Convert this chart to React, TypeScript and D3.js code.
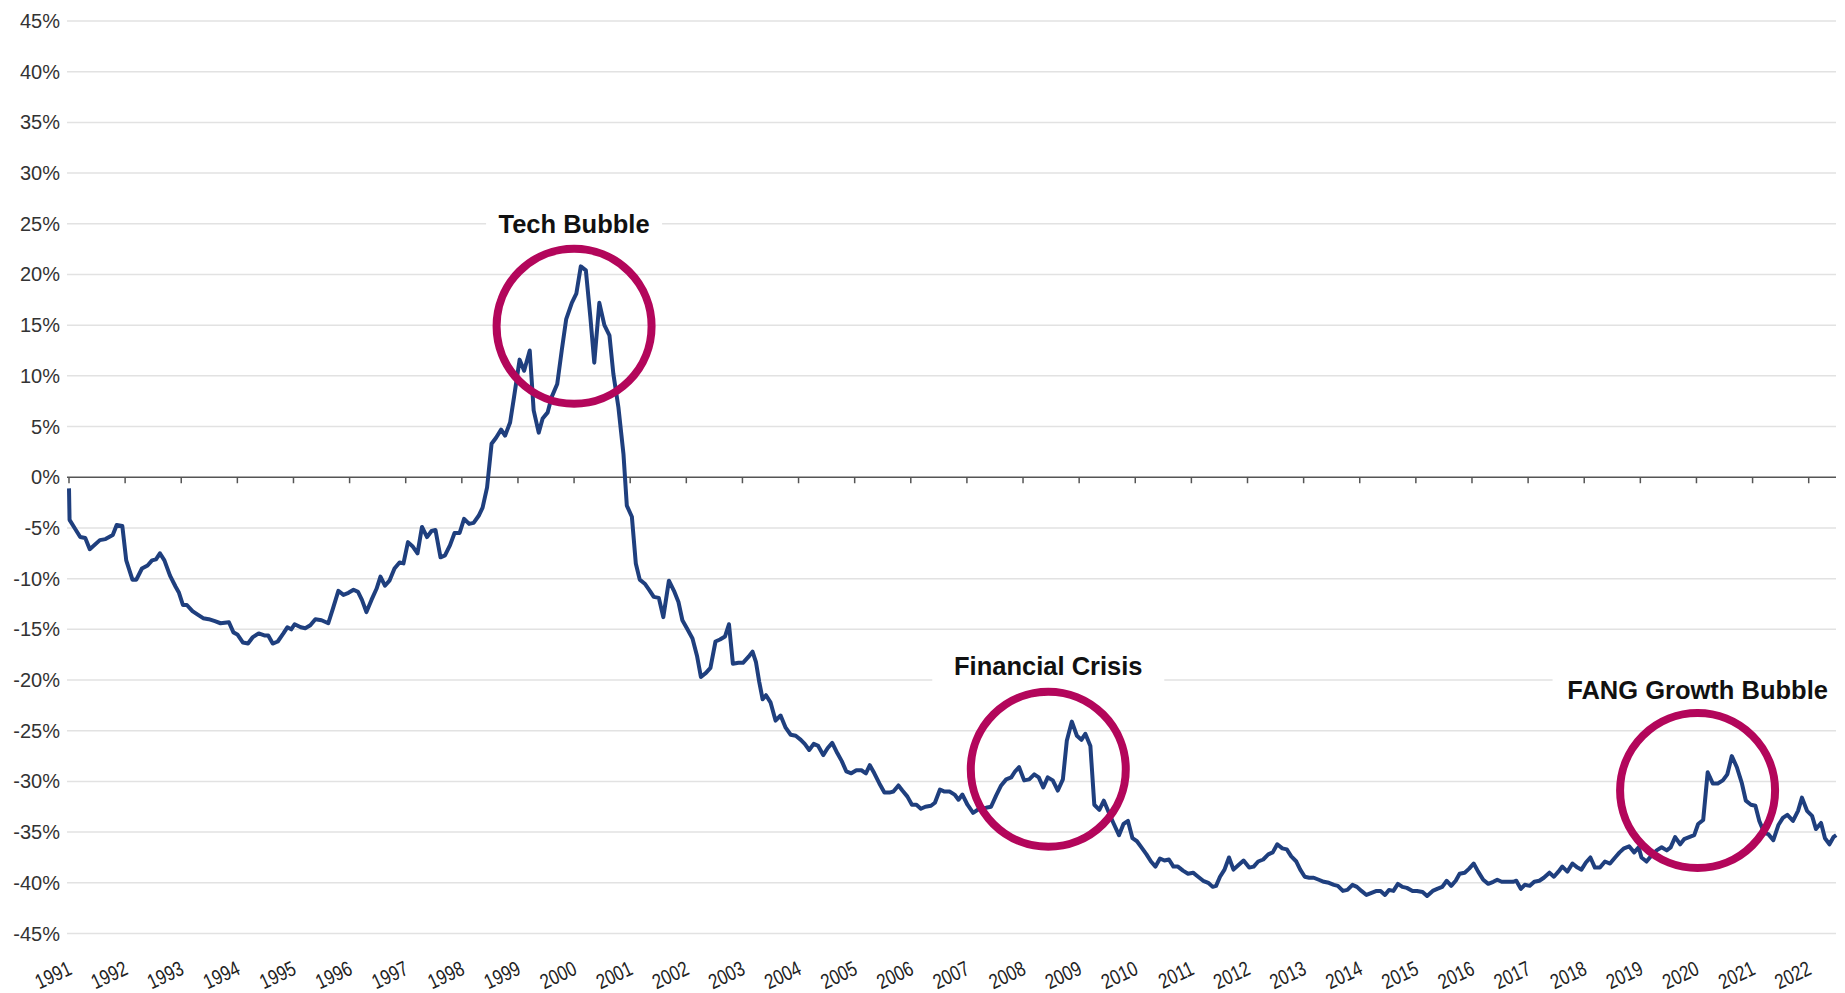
import React from 'react';
import * as d3 from 'd3';

const yearTicks = d3.range(1991, 2023);
const yTicks = [45, 40, 35, 30, 25, 20, 15, 10, 5, 0, -5, -10, -15, -20, -25, -30, -35, -40, -45];

const dates = [
  1991.00, 1991.01, 1991.10, 1991.20, 1991.29, 1991.37, 1991.55, 1991.65, 1991.78, 1991.85, 1991.95,
  1992.02, 1992.13, 1992.20, 1992.30, 1992.40, 1992.48, 1992.55, 1992.62, 1992.70, 1992.80, 1992.90, 1992.96,
  1993.03, 1993.10, 1993.20, 1993.28, 1993.39, 1993.49, 1993.60, 1993.70, 1993.85, 1993.93,
  1994.00, 1994.10, 1994.19, 1994.27, 1994.38, 1994.48, 1994.55, 1994.63, 1994.72, 1994.82, 1994.89, 1994.96,
  1995.02, 1995.13, 1995.21, 1995.30, 1995.39, 1995.50, 1995.62, 1995.70, 1995.80, 1995.89, 1995.98,
  1996.07, 1996.15, 1996.22, 1996.30, 1996.39, 1996.48, 1996.55, 1996.63, 1996.71, 1996.80, 1996.89, 1996.96,
  1997.04, 1997.12, 1997.21, 1997.29, 1997.38, 1997.46, 1997.53, 1997.62, 1997.70, 1997.79, 1997.87, 1997.96,
  1998.04, 1998.13, 1998.21, 1998.30, 1998.37, 1998.45, 1998.53, 1998.61, 1998.70, 1998.77, 1998.86, 1998.93,
  1999.03, 1999.11, 1999.21, 1999.28, 1999.37, 1999.44, 1999.53, 1999.60, 1999.70, 1999.78, 1999.86, 1999.96,
  2000.04, 2000.12, 2000.21, 2000.29, 2000.36, 2000.45, 2000.54, 2000.63, 2000.70, 2000.79, 2000.88, 2000.94,
  2001.03, 2001.10, 2001.17, 2001.26, 2001.35, 2001.42, 2001.51, 2001.59, 2001.69, 2001.78, 2001.86, 2001.93,
  2002.02, 2002.11, 2002.19, 2002.26, 2002.35, 2002.43, 2002.52, 2002.60, 2002.69, 2002.76, 2002.83, 2002.93,
  2003.01, 2003.11, 2003.18, 2003.24, 2003.30, 2003.36, 2003.42, 2003.50, 2003.59, 2003.68, 2003.77, 2003.86, 2003.95,
  2004.04, 2004.11, 2004.19, 2004.27, 2004.35, 2004.44, 2004.52, 2004.60, 2004.69, 2004.77, 2004.85, 2004.94,
  2005.03, 2005.12, 2005.20, 2005.27, 2005.35, 2005.44, 2005.53, 2005.62, 2005.69, 2005.78, 2005.85, 2005.94,
  2006.02, 2006.10, 2006.18, 2006.26, 2006.36, 2006.43, 2006.52, 2006.60, 2006.69, 2006.78, 2006.85, 2006.92,
  2007.01, 2007.11, 2007.22, 2007.34, 2007.43, 2007.52, 2007.61, 2007.70, 2007.79, 2007.86, 2007.93,
  2008.02, 2008.11, 2008.20, 2008.28, 2008.36, 2008.44, 2008.53, 2008.62, 2008.71, 2008.78, 2008.87, 2008.96,
  2009.04, 2009.11, 2009.20, 2009.27, 2009.36, 2009.44, 2009.53, 2009.61, 2009.71, 2009.79, 2009.87, 2009.95,
  2010.03, 2010.11, 2010.20, 2010.28, 2010.36, 2010.44, 2010.52, 2010.60, 2010.68, 2010.76, 2010.85, 2010.94,
  2011.03, 2011.12, 2011.21, 2011.30, 2011.38, 2011.44, 2011.51, 2011.59, 2011.67, 2011.75, 2011.83, 2011.93,
  2012.03, 2012.11, 2012.19, 2012.28, 2012.37, 2012.45, 2012.53, 2012.62, 2012.70, 2012.78, 2012.87, 2012.94,
  2013.02, 2013.10, 2013.18, 2013.27, 2013.36, 2013.45, 2013.54, 2013.61, 2013.70, 2013.78, 2013.87, 2013.95,
  2014.03, 2014.12, 2014.21, 2014.30, 2014.37, 2014.45, 2014.52, 2014.60, 2014.68, 2014.76, 2014.84, 2014.94,
  2015.02, 2015.12, 2015.20, 2015.30, 2015.38, 2015.47, 2015.55, 2015.63, 2015.71, 2015.78, 2015.87, 2015.95,
  2016.03, 2016.11, 2016.20, 2016.29, 2016.38, 2016.45, 2016.53, 2016.62, 2016.73, 2016.79, 2016.87, 2016.94,
  2017.03, 2017.11, 2017.20, 2017.28, 2017.38, 2017.46, 2017.54, 2017.61, 2017.70, 2017.79, 2017.88, 2017.95,
  2018.03, 2018.11, 2018.19, 2018.28, 2018.37, 2018.46, 2018.55, 2018.63, 2018.71, 2018.80, 2018.89, 2018.97,
  2019.02, 2019.11, 2019.20, 2019.29, 2019.38, 2019.47, 2019.54, 2019.62, 2019.71, 2019.78, 2019.87, 2019.96,
  2020.03, 2020.12, 2020.20, 2020.29, 2020.38, 2020.47, 2020.55, 2020.63, 2020.72, 2020.81, 2020.88, 2020.97,
  2021.05, 2021.12, 2021.21, 2021.28, 2021.37, 2021.46, 2021.54, 2021.62, 2021.72, 2021.81, 2021.88, 2021.97,
  2022.06, 2022.13, 2022.22, 2022.29, 2022.37, 2022.44, 2022.49,
];

const values = [
  -1.1, -4.2, -5.0, -5.9, -6.0, -7.1, -6.2, -6.1, -5.7, -4.7, -4.8,
  -8.2, -10.1, -10.1, -9.0, -8.7, -8.2, -8.1, -7.5, -8.2, -9.7, -10.8, -11.4,
  -12.6, -12.6, -13.2, -13.5, -13.9, -14.0, -14.2, -14.4, -14.3, -15.3,
  -15.5, -16.3, -16.4, -15.8, -15.4, -15.6, -15.6, -16.4, -16.2, -15.4, -14.8, -15.0,
  -14.5, -14.8, -14.9, -14.6, -14.0, -14.1, -14.4, -13.0, -11.2, -11.6, -11.4,
  -11.1, -11.3, -12.1, -13.3, -12.1, -11.0, -9.8, -10.7, -10.2, -9.0, -8.4, -8.5,
  -6.4, -6.8, -7.5, -4.9, -5.9, -5.3, -5.2, -7.9, -7.7, -6.7, -5.5, -5.5,
  -4.1, -4.6, -4.5, -3.8, -3.0, -1.0, 3.3, 3.9, 4.7, 4.1, 5.4, 7.9,
  11.6, 10.5, 12.5, 6.6, 4.4, 5.8, 6.4, 7.9, 9.2, 12.5, 15.6, 17.2,
  18.1, 20.8, 20.4, 15.8, 11.3, 17.2, 15.0, 14.0, 10.2, 6.9, 2.3, -2.8,
  -3.9, -8.5, -10.1, -10.5, -11.2, -11.8, -11.9, -13.8, -10.2, -11.2, -12.3, -14.1,
  -15.0, -15.9, -17.6, -19.7, -19.3, -18.8, -16.2, -16.0, -15.7, -14.5, -18.4, -18.3,
  -18.3, -17.7, -17.2, -18.2, -20.2, -21.9, -21.5, -22.2, -24.0, -23.5, -24.7, -25.4, -25.5,
  -25.9, -26.3, -26.9, -26.3, -26.5, -27.4, -26.7, -26.2, -27.2, -28.0, -29.0, -29.2,
  -28.9, -28.9, -29.2, -28.4, -29.2, -30.2, -31.1, -31.1, -31.0, -30.4, -30.9, -31.5,
  -32.3, -32.3, -32.7, -32.5, -32.4, -32.1, -30.8, -31.0, -31.0, -31.3, -31.8, -31.3,
  -32.3, -33.1, -32.7, -32.6, -32.5, -31.4, -30.4, -29.8, -29.6, -29.0, -28.6,
  -29.9, -29.8, -29.3, -29.6, -30.6, -29.6, -29.9, -30.9, -29.8, -26.0, -24.1, -25.5,
  -25.9, -25.3, -26.5, -32.3, -32.8, -31.9, -33.1, -34.1, -35.3, -34.2, -33.9, -35.6,
  -35.9, -36.5, -37.2, -37.9, -38.4, -37.6, -37.8, -37.7, -38.4, -38.4, -38.8, -39.1,
  -39.0, -39.4, -39.8, -40.0, -40.4, -40.3, -39.4, -38.7, -37.5, -38.7, -38.3, -37.8,
  -38.5, -38.4, -37.9, -37.7, -37.2, -37.0, -36.2, -36.6, -36.7, -37.4, -37.9, -38.7,
  -39.4, -39.5, -39.5, -39.7, -39.9, -40.0, -40.2, -40.3, -40.8, -40.7, -40.2, -40.4,
  -40.8, -41.2, -41.0, -40.8, -40.8, -41.2, -40.7, -40.8, -40.1, -40.4, -40.5, -40.8,
  -40.8, -40.9, -41.3, -40.8, -40.6, -40.4, -39.8, -40.3, -39.8, -39.1, -39.0, -38.6,
  -38.1, -38.9, -39.7, -40.1, -39.9, -39.7, -39.9, -39.9, -39.9, -39.8, -40.6, -40.2,
  -40.3, -39.9, -39.8, -39.5, -39.0, -39.4, -38.9, -38.4, -38.9, -38.1, -38.5, -38.7,
  -38.0, -37.5, -38.5, -38.5, -37.9, -38.1, -37.5, -37.0, -36.6, -36.4, -37.0, -36.5,
  -37.5, -37.9, -37.3, -36.8, -36.5, -36.8, -36.5, -35.5, -36.2, -35.7, -35.5, -35.3,
  -34.2, -33.8, -29.1, -30.2, -30.2, -29.9, -29.3, -27.5, -28.6, -30.2, -31.9, -32.3,
  -32.4, -33.9, -35.1, -35.2, -35.8, -34.3, -33.6, -33.3, -33.9, -32.9, -31.6, -32.9,
  -33.4, -34.7, -34.1, -35.6, -36.2, -35.5, -35.3,
];

const annotationLabels = ['Tech Bubble', 'Financial Crisis', 'FANG Growth Bubble'];
const annotationYears = [2000.0, 2008.45, 2020.02];
const circleValues = [14.9, -28.8, -30.9];
const labelValues = [25.0, -18.6, -20.95];
const labelPad = [88, 116, 145];

const W = 1845;
const H = 993;

export default function App() {
  const x = d3.scaleLinear().domain([1991, 2022]).range([69, 1808.7]);
  const y = d3.scaleLinear().domain([-45, 45]).range([933.5, 21]);
  const gridLeft = 67;
  const gridRight = 1836;

  const pts = dates.map((d, i) => [d, values[i]] as [number, number]);
  const line = d3
    .line<[number, number]>()
    .x((d) => x(d[0]))
    .y((d) => y(d[1]));

  const font = '"Liberation Sans", Arial, sans-serif';

  return (
    <svg
      width={W}
      height={H}
      style={{ position: 'absolute', left: 0, top: 0, background: '#fff' }}
    >
      <rect x={0} y={0} width={W} height={H} fill="#fff" />
      {yTicks.filter((t) => t !== 0).map((t) => (
        <line key={t} x1={gridLeft} x2={gridRight} y1={y(t)} y2={y(t)} stroke="#e2e2e2" strokeWidth={1.5} />
      ))}
      {yTicks.map((t) => (
        <text
          key={'l' + t}
          x={60}
          y={y(t)}
          textAnchor="end"
          dominantBaseline="central"
          fontFamily={font}
          fontSize={20}
          fill="#333"
        >
          {t + '%'}
        </text>
      ))}
      <line x1={gridLeft} x2={gridRight} y1={y(0)} y2={y(0)} stroke="#555" strokeWidth={1.5} />
      {yearTicks.map((yr) => (
        <line key={'t' + yr} x1={x(yr)} x2={x(yr)} y1={y(0)} y2={y(0) + 6} stroke="#555" strokeWidth={1.5} />
      ))}
      {yearTicks.map((yr) => (
        <text
          key={'x' + yr}
          transform={`translate(${x(yr) + 1},${967}) rotate(-25) scale(0.8,1)`}
          textAnchor="end"
          dy="0.35em"
          fontFamily={font}
          fontSize={21}
          fill="#222"
        >
          {yr}
        </text>
      ))}
      <path d={line(pts) || ''} fill="none" stroke="#1f3f7e" strokeWidth={4} strokeLinejoin="round" />
      {annotationLabels.map((lab, i) => (
        <g key={lab}>
          <circle
            cx={x(annotationYears[i])}
            cy={y(circleValues[i])}
            r={77.5}
            fill="none"
            stroke="#b3065b"
            strokeWidth={8}
          />
          <rect
            x={x(annotationYears[i]) - labelPad[i]}
            y={y(labelValues[i]) - 17}
            width={labelPad[i] * 2}
            height={34}
            fill="#fff"
          />
          <text
            x={x(annotationYears[i])}
            y={y(labelValues[i])}
            textAnchor="middle"
            dominantBaseline="central"
            fontFamily={font}
            fontWeight="bold"
            fontSize={25.5}
            fill="#111"
          >
            {lab}
          </text>
        </g>
      ))}
    </svg>
  );
}
